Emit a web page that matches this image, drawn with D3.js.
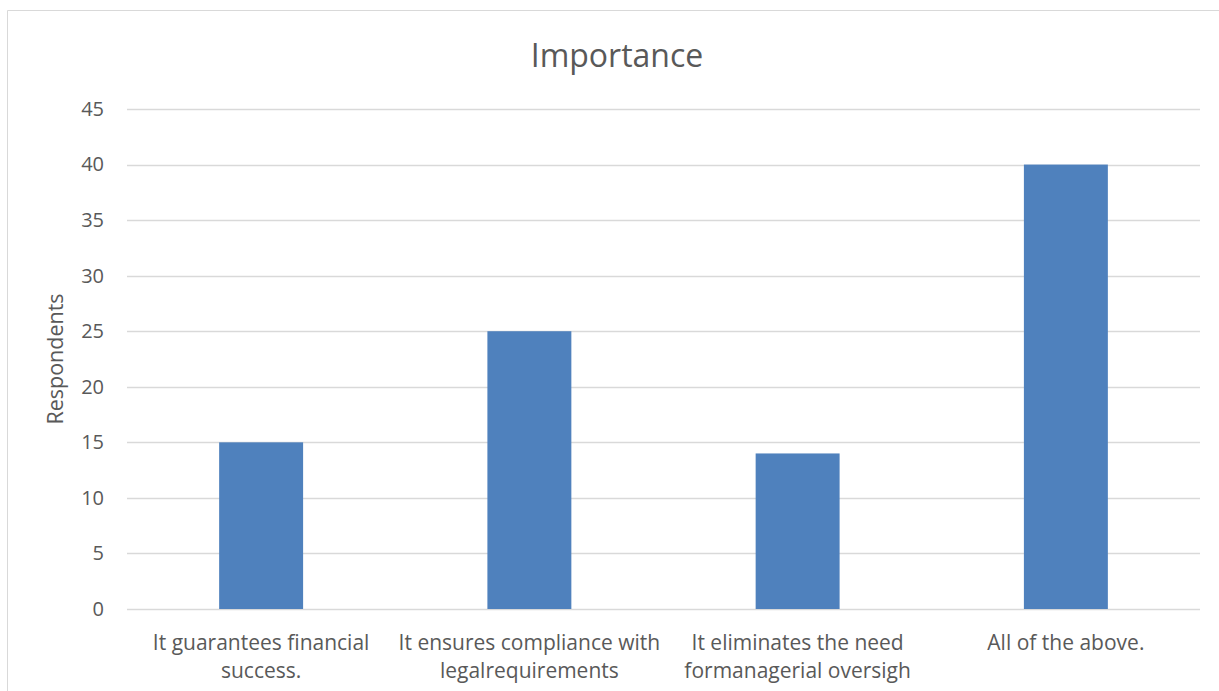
<!DOCTYPE html>
<html>
<head>
<meta charset="utf-8">
<script src="https://cdn.jsdelivr.net/npm/d3@7"></script>
<style>
  html, body { margin: 0; padding: 0; background: #fff; }
  svg { display: block; }
  text { font-family: "Open Sans", Lato, sans-serif; fill: #595959; }
</style>
</head>
<body>
<svg id="chart" width="1219" height="691"></svg>
<script>
// Survey answers: why the practice matters
const categories = [
  ["It guarantees financial", "success."],
  ["It ensures compliance with", "legalrequirements"],
  ["It eliminates the need", "formanagerial oversigh"],
  ["All of the above."]
];
const respondents = [15, 25, 14, 40];
const yTicks = [0, 5, 10, 15, 20, 25, 30, 35, 40, 45];
const chartTitle = "Importance";
const yTitle = "Respondents";

const svg = d3.select("#chart");
const W = 1219, H = 691;
const plot = { left: 127, right: 1200, top: 109, bottom: 609 };

// outer chart frame (top and left edges visible)
svg.append("path")
  .attr("d", `M7.5,${H} V10.5 H${W}`)
  .attr("fill", "none")
  .attr("stroke", "#d9d9d9")
  .attr("stroke-width", 1);

const keys = categories.map((c, i) => i);
const x = d3.scaleBand().domain(keys).range([plot.left, plot.right]).padding(0);
const y = d3.scaleLinear().domain([0, 45]).range([plot.bottom, plot.top]);
const barW = x.bandwidth() * 0.313;

// horizontal gridlines
svg.append("g")
  .selectAll("line")
  .data(yTicks)
  .join("line")
  .attr("x1", plot.left)
  .attr("x2", plot.right)
  .attr("y1", d => Math.round(y(d)) + 0.5)
  .attr("y2", d => Math.round(y(d)) + 0.5)
  .attr("stroke", "#d9d9d9")
  .attr("stroke-width", 1.3);

// y axis tick labels
const yAxis = d3.axisLeft(y).tickValues(yTicks).tickSize(0).tickPadding(0);
const gy = svg.append("g").attr("transform", `translate(104,0)`).call(yAxis);
gy.select(".domain").remove();
gy.selectAll("text")
  .attr("font-size", 20)
  .attr("font-family", "'Open Sans', Lato, sans-serif")
  .attr("fill", "#595959");

// bars
svg.append("g")
  .selectAll("rect")
  .data(respondents)
  .join("rect")
  .attr("x", (d, i) => x(i) + x.bandwidth() / 2 - barW / 2)
  .attr("width", barW)
  .attr("y", d => y(d))
  .attr("height", d => y(0) - y(d))
  .attr("fill", "#4f81bd");

// category labels, wrapped onto two lines
const xl = svg.append("g");
categories.forEach((lines, i) => {
  const t = xl.append("text")
    .attr("text-anchor", "middle")
    .attr("font-size", 21)
    .attr("x", x(i) + x.bandwidth() / 2);
  lines.forEach((ln, j) => {
    t.append("tspan")
      .attr("x", x(i) + x.bandwidth() / 2)
      .attr("y", 650 + j * 28)
      .text(ln);
  });
});

// chart title
svg.append("text")
  .attr("x", 617)
  .attr("y", 67)
  .attr("text-anchor", "middle")
  .attr("font-size", 32)
  .text(chartTitle);

// y axis title
svg.append("text")
  .attr("transform", `translate(63,359) rotate(-90)`)
  .attr("text-anchor", "middle")
  .attr("font-size", 21.5)
  .text(yTitle);
</script>
</body>
</html>
